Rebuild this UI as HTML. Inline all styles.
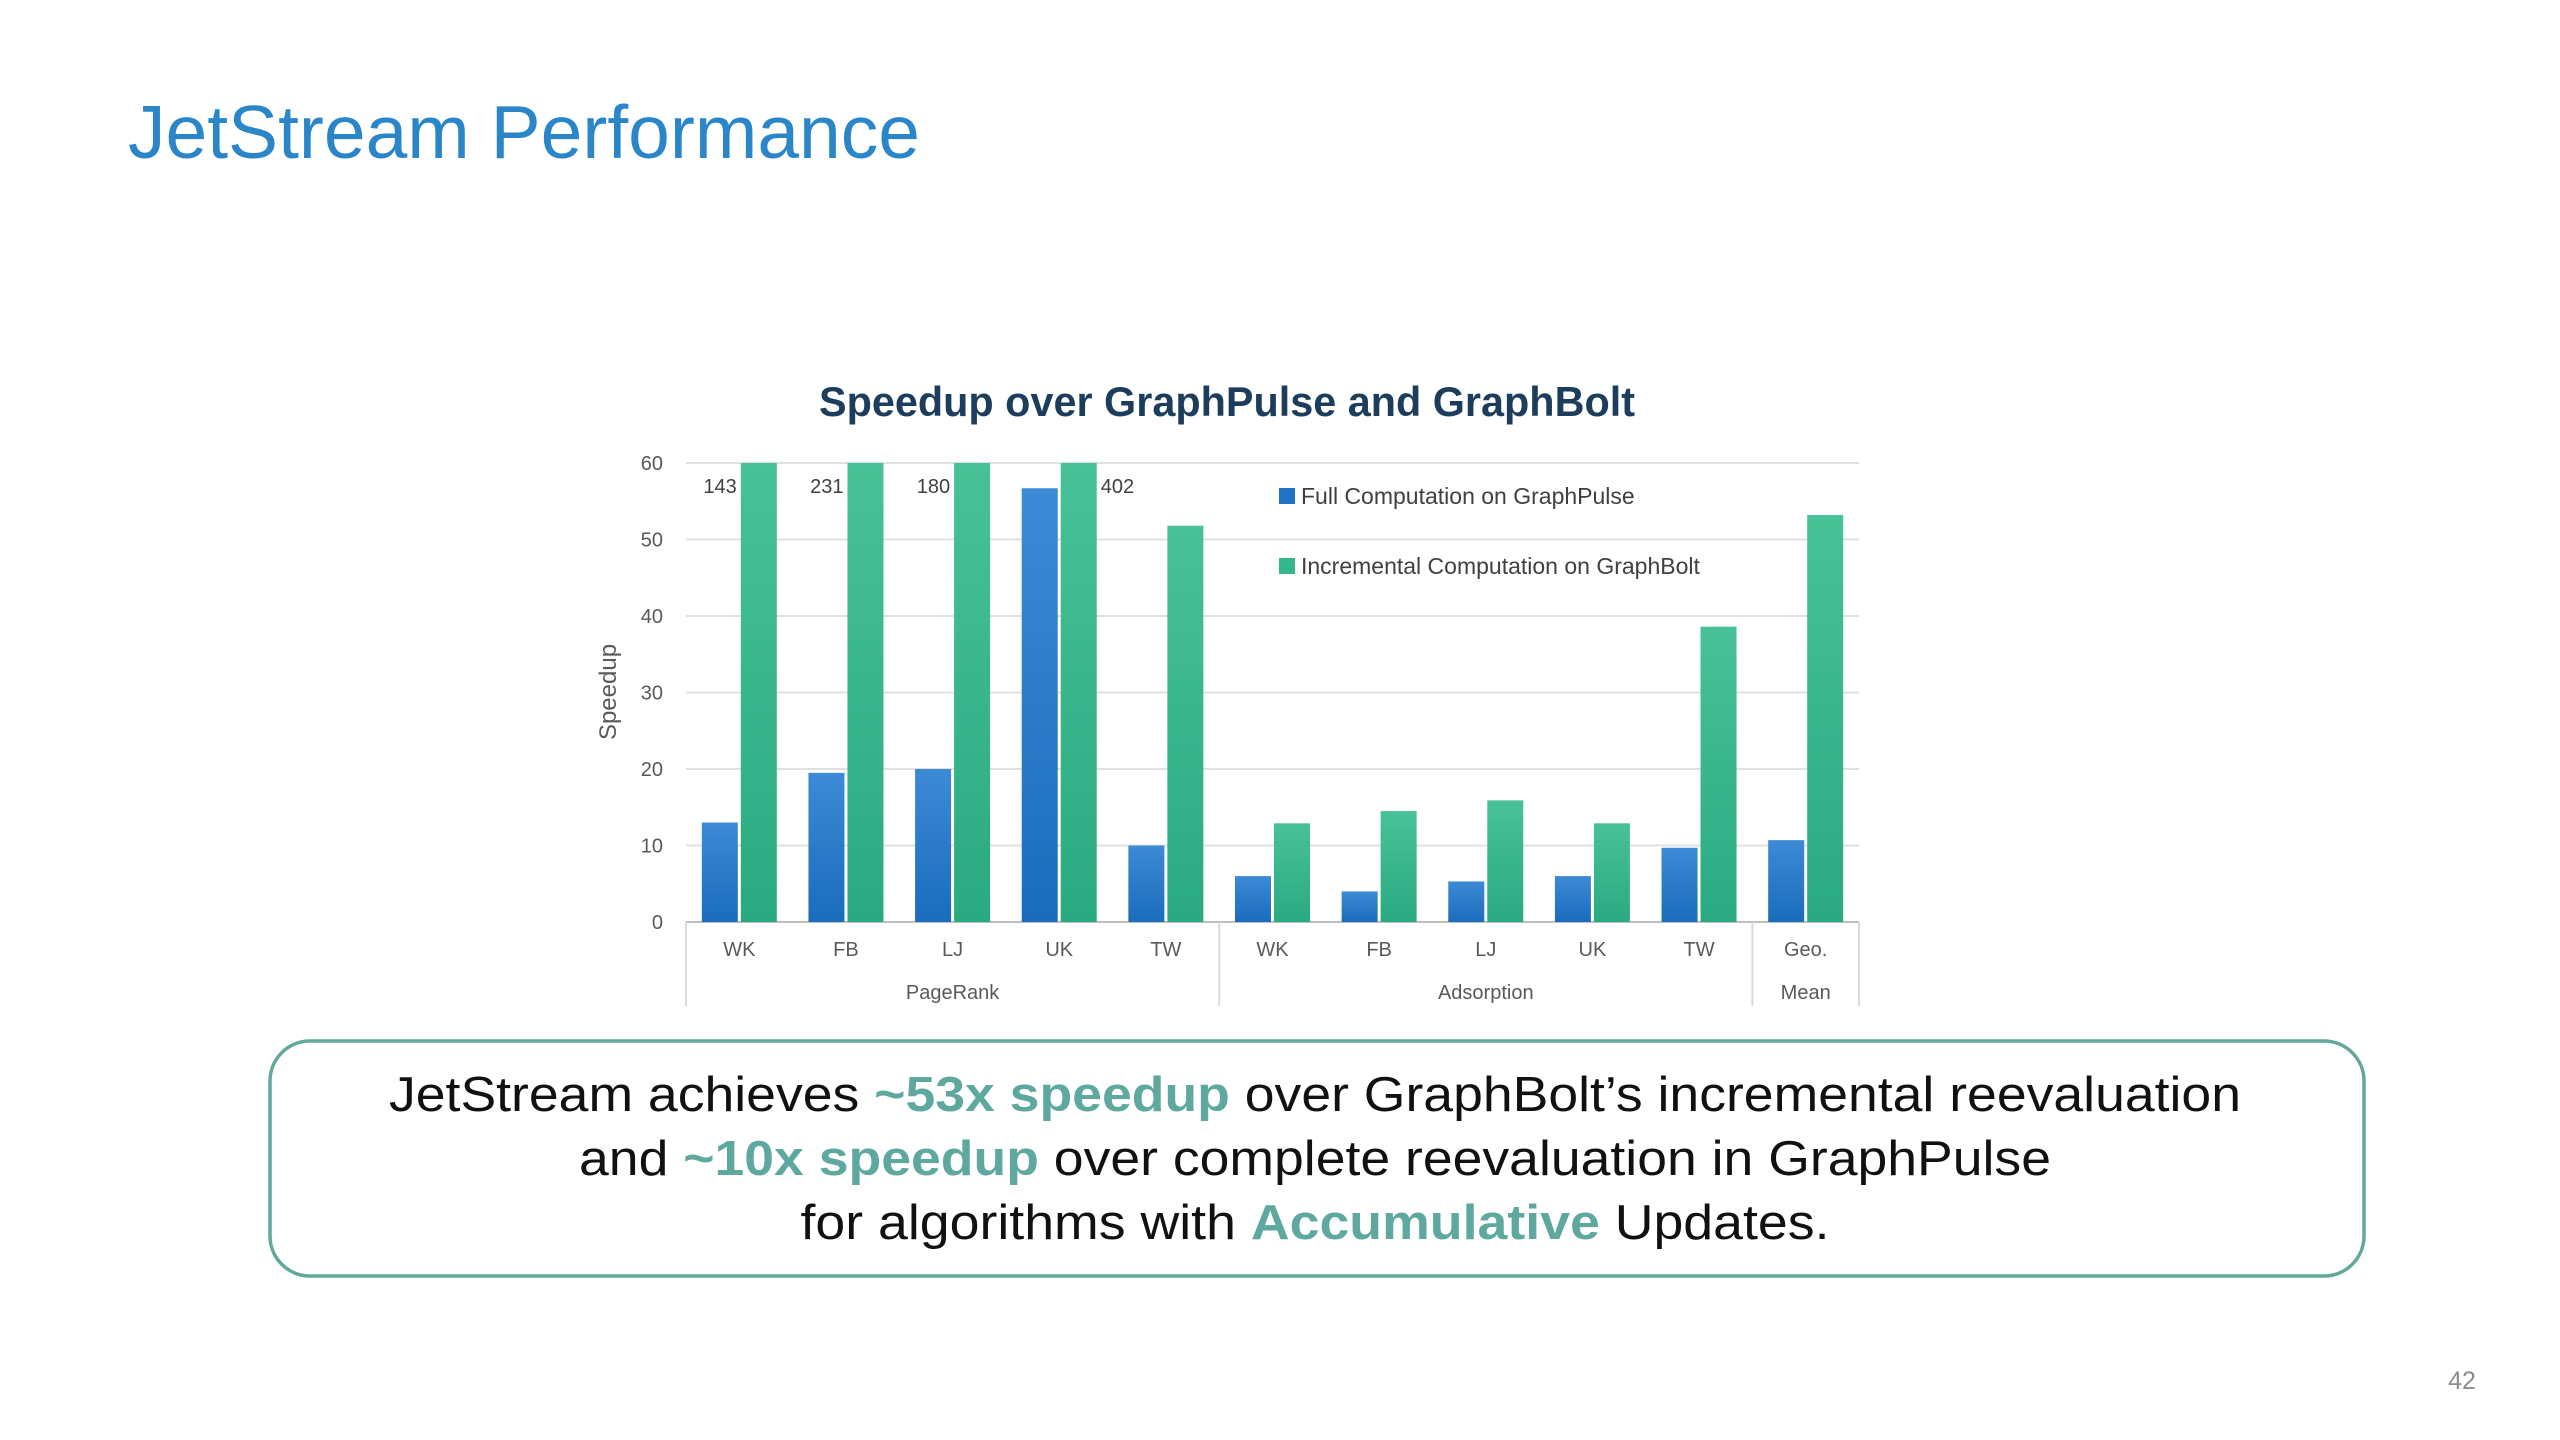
<!DOCTYPE html>
<html><head><meta charset="utf-8"><style>
html,body{margin:0;padding:0;background:#fff;}
svg{display:block;}
</style></head><body>
<svg id="slide" width="2560" height="1440" viewBox="0 0 2560 1440" xmlns="http://www.w3.org/2000/svg" font-family="Liberation Sans, sans-serif">
<defs>
<linearGradient id="gBlue" x1="0" y1="0" x2="0" y2="1"><stop offset="0" stop-color="#3d8ad6"/><stop offset="1" stop-color="#1a6cbd"/></linearGradient>
<linearGradient id="gGreen" x1="0" y1="0" x2="0" y2="1"><stop offset="0" stop-color="#48c197"/><stop offset="1" stop-color="#2aaa82"/></linearGradient>
</defs>
<text x="128" y="158" font-size="75" fill="#2a86c8">JetStream Performance</text>
<text x="1227" y="416" font-size="42" font-weight="bold" fill="#1d3d5c" text-anchor="middle" textLength="816" lengthAdjust="spacingAndGlyphs">Speedup over GraphPulse and GraphBolt</text>
<g id="chart"></g>
<text x="616" y="692" font-size="24" fill="#595959" text-anchor="middle" transform="rotate(-90 616 692)">Speedup</text>
<g>
<rect x="1279" y="488" width="16" height="16" fill="#1f74c6"/>
<text x="1301" y="504" font-size="23" fill="#404040">Full Computation on GraphPulse</text>
<rect x="1279" y="558" width="16" height="16" fill="#34b88a"/>
<text x="1301" y="574" font-size="23" fill="#404040">Incremental Computation on GraphBolt</text>
</g>
<rect x="270" y="1041" width="2094" height="235" rx="40" ry="40" fill="#fff" stroke="#62a99c" stroke-width="3.5"/>
<g font-size="49" fill="#111" text-anchor="middle">
<text x="1315" y="1111" textLength="1852" lengthAdjust="spacingAndGlyphs">JetStream achieves <tspan fill="#5fa89f" font-weight="bold">~53x speedup</tspan> over GraphBolt’s incremental reevaluation</text>
<text x="1315" y="1175" textLength="1472" lengthAdjust="spacingAndGlyphs">and <tspan fill="#5fa89f" font-weight="bold">~10x speedup</tspan> over complete reevaluation in GraphPulse</text>
<text x="1315" y="1239" textLength="1029" lengthAdjust="spacingAndGlyphs">for algorithms with <tspan fill="#5fa89f" font-weight="bold">Accumulative</tspan> Updates.</text>
</g>
<text x="2462" y="1389" font-size="25" fill="#8c8c8c" text-anchor="middle">42</text>
</svg>
<script>
const categories = ["WK","FB","LJ","UK","TW","WK","FB","LJ","UK","TW","Geo."];
const groups = ["PageRank","Adsorption","Mean"];
const groupSizes = [5,5,1];
const fullValues = [13,19.5,20,56.7,10,6,4,5.3,6,9.7,10.7];
const incrValues = [143,231,180,402,51.8,12.9,14.5,15.9,12.9,38.6,53.2];
const yTicks = [0,10,20,30,40,50,60];
const yMax = 60;

const NS = "http://www.w3.org/2000/svg";
const g = document.getElementById('chart');
const L = 686, R = 1859, Y0 = 922, YT = 463;
const band = (R - L) / categories.length;
function y(v){ return Y0 - (Math.min(v, yMax) / yMax) * (Y0 - YT); }
function xBand(i){ return L + i * band; }
function mk(tag, attrs){ const e = document.createElementNS(NS, tag); for (const k in attrs) e.setAttribute(k, attrs[k]); g.appendChild(e); return e; }

yTicks.forEach(t => {
  const ln = mk('line', {x1:L, x2:R, y1:y(t), y2:y(t), stroke: t===0 ? '#bfbfbf' : '#e0e0e0', 'stroke-width':2});
  
  
  const tx = mk('text', {x:663, y:y(t)+7, 'font-size':20, fill:'#595959', 'text-anchor':'end'});
  tx.textContent = t;
  
  
});

const bw = 36, gap = 3;
categories.forEach((c, i) => {
  const cx = xBand(i) + band/2;
  const b = mk('rect', {x:cx - gap/2 - bw, y:y(fullValues[i]), width:bw, height:Y0 - y(fullValues[i]), fill:'url(#gBlue)'});
  
  
  const gb = mk('rect', {x:cx + gap/2, y:y(incrValues[i]), width:bw, height:Y0 - y(incrValues[i]), fill:'url(#gGreen)'});
  
  
  if (incrValues[i] > yMax) {
    const lb = mk('text', {'font-size':20, fill:'#404040', y:y(yMax)+30});
    if (i === 3) { lb.setAttribute('x', cx + gap/2 + bw + 4); }
    else { lb.setAttribute('x', cx + gap/2 - 4); lb.setAttribute('text-anchor','end'); }
    lb.textContent = incrValues[i];
    
    
  }
  const xl = mk('text', {x:cx, y:956, 'font-size':20, fill:'#595959', 'text-anchor':'middle'});
  xl.textContent = c;
  
  
});

let start = 0;
const sep0 = mk('line', {x1:L, x2:L, y1:Y0, y2:1006, stroke:'#d9d9d9', 'stroke-width':2});


groups.forEach((gr, k) => {
  const end = start + groupSizes[k];
  const sx = xBand(end);
  const sp = mk('line', {x1:sx, x2:sx, y1:Y0, y2:1006, stroke:'#d9d9d9', 'stroke-width':2});
  
  
  const t = mk('text', {x:(xBand(start)+sx)/2, y:999, 'font-size':20, fill:'#595959', 'text-anchor':'middle'});
  t.textContent = gr;
  
  
  start = end;
});
</script>
</body></html>
